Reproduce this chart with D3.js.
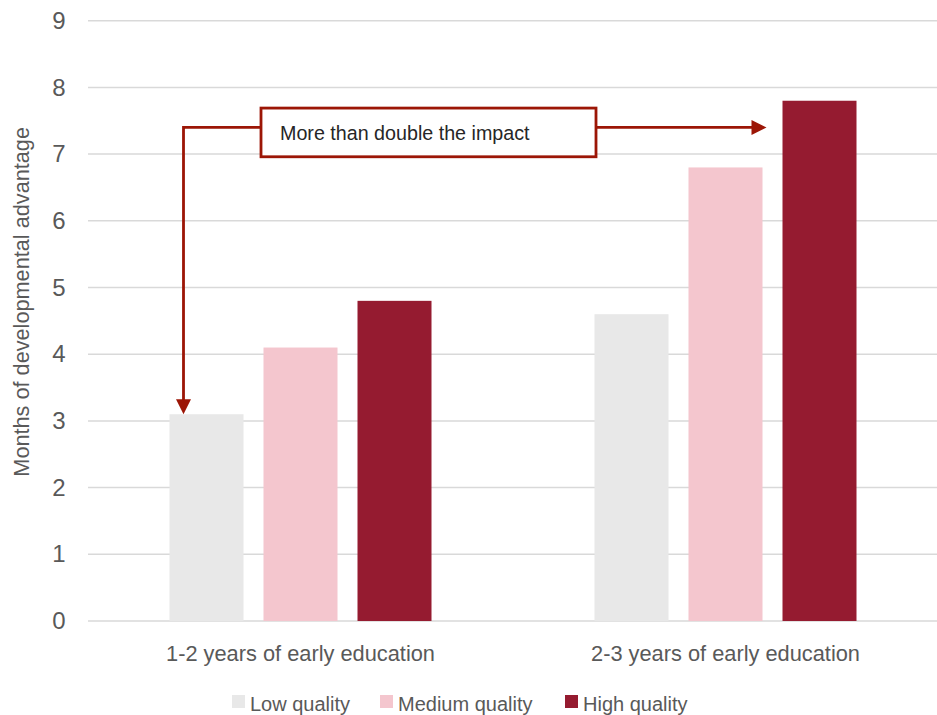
<!DOCTYPE html>
<html>
<head>
<meta charset="utf-8">
<script src="https://cdn.jsdelivr.net/npm/d3@7"></script>
<style>
  body { margin: 0; background: #fff; }
  text { font-family: "Liberation Sans", Arial, sans-serif; }
</style>
</head>
<body>
<div id="chart"></div>
<script>
// data
const categories = ["1-2 years of early education", "2-3 years of early education"];
const series = ["Low quality", "Medium quality", "High quality"];
const lowValues = [3.1, 4.6];
const mediumValues = [4.1, 6.8];
const highValues = [4.8, 7.8];
const yTicks = [0, 1, 2, 3, 4, 5, 6, 7, 8, 9];
const annotationText = "More than double the impact";

const colors = ["#e8e8e8", "#f4c6ce", "#951b30"];
const arrowColor = "#9c1606";
const greyText = "#595959";

const width = 937, height = 715;
const margin = {top: 20.7, right: -1, bottom: 94, left: 88};

const svg = d3.select("#chart")
  .append("svg")
  .attr("width", width)
  .attr("height", height);

const rows = categories.map((c, i) => ({
  category: c,
  values: [lowValues[i], mediumValues[i], highValues[i]]
}));

// scales
const x0 = d3.scaleBand()
  .domain(categories)
  .range([margin.left, width - margin.right])
  .padding(0);

const x1 = d3.scaleBand()
  .domain(series)
  .range([0, x0.bandwidth()])
  .paddingInner(20 / 94)
  .paddingOuter(0.867);

const y = d3.scaleLinear()
  .domain([0, 9])
  .range([height - margin.bottom, margin.top]);

// gridlines
svg.append("g")
  .selectAll("line")
  .data(yTicks)
  .join("line")
    .attr("x1", margin.left)
    .attr("x2", width)
    .attr("y1", d => y(d))
    .attr("y2", d => y(d))
    .attr("stroke", "#d9d9d9")
    .attr("stroke-width", 1.5);

// y axis labels
const yAxis = d3.axisLeft(y).tickValues(yTicks).tickSize(0).tickPadding(0);
svg.append("g")
  .attr("transform", `translate(65.5,0)`)
  .call(yAxis)
  .call(g => g.select(".domain").remove())
  .call(g => g.selectAll("text")
    .attr("fill", greyText)
    .attr("font-size", "24px")
    .attr("font-family", "'Liberation Sans', Arial, sans-serif"));

// y axis title
svg.append("text")
  .attr("transform", `translate(29, ${(y(0) + y(9)) / 2 - 19}) rotate(-90)`)
  .attr("text-anchor", "middle")
  .attr("fill", greyText)
  .attr("font-size", "21.7px")
  .text("Months of developmental advantage");

// bars
svg.append("g")
  .selectAll("g")
  .data(rows)
  .join("g")
    .attr("transform", d => `translate(${x0(d.category)},0)`)
  .selectAll("rect")
  .data(d => d.values.map((v, i) => ({key: series[i], value: v, i: i})))
  .join("rect")
    .attr("x", d => x1(d.key))
    .attr("y", d => y(d.value))
    .attr("width", x1.bandwidth())
    .attr("height", d => y(0) - y(d.value))
    .attr("fill", d => colors[d.i]);

// category labels
const xAxis = d3.axisBottom(x0).tickSize(0).tickPadding(0);
svg.append("g")
  .attr("transform", `translate(0, 646)`)
  .call(xAxis)
  .call(g => g.select(".domain").remove())
  .call(g => g.selectAll("text")
    .attr("fill", greyText)
    .attr("font-size", "21.8px")
    .attr("font-family", "'Liberation Sans', Arial, sans-serif"));

// annotation
const lineY = y(7.4);
const downX = x0(categories[0]) + x1("Low quality") + 14;
const downTip = y(lowValues[0]);
const rightTip = x0(categories[1]) + x1("High quality") - 16;
const boxL = 261, boxR = 596, boxT = y(7.69), boxB = y(6.96);

const ann = svg.append("g");
ann.append("path")
  .attr("d", `M${boxL},${lineY} H${downX} V${downTip - 13}`)
  .attr("fill", "none")
  .attr("stroke", arrowColor)
  .attr("stroke-width", 2.8);
ann.append("path")
  .attr("d", `M${downX - 7.5},${downTip - 15} L${downX + 7.5},${downTip - 15} L${downX},${downTip} Z`)
  .attr("fill", arrowColor);
ann.append("path")
  .attr("d", `M${boxR},${lineY} H${rightTip - 13}`)
  .attr("stroke", arrowColor)
  .attr("stroke-width", 2.8);
ann.append("path")
  .attr("d", `M${rightTip - 15},${lineY - 7.5} L${rightTip - 15},${lineY + 7.5} L${rightTip},${lineY} Z`)
  .attr("fill", arrowColor);
ann.append("rect")
  .attr("x", boxL)
  .attr("y", boxT)
  .attr("width", boxR - boxL)
  .attr("height", boxB - boxT)
  .attr("fill", "#fff")
  .attr("stroke", arrowColor)
  .attr("stroke-width", 2.8);
ann.append("text")
  .attr("x", boxL + 19)
  .attr("y", 140)
  .attr("fill", "#262626")
  .attr("font-size", "19.7px")
  .text(annotationText);

// legend
const legendX = [232, 380, 565];
const legend = svg.append("g")
  .selectAll("g")
  .data(series)
  .join("g")
    .attr("transform", (d, i) => `translate(${legendX[i]}, 695)`);
legend.append("rect")
  .attr("width", 13)
  .attr("height", 13)
  .attr("fill", (d, i) => colors[i]);
legend.append("text")
  .attr("x", 18)
  .attr("y", 16)
  .attr("fill", greyText)
  .attr("font-size", "20px")
  .text(d => d);
</script>
</body>
</html>
